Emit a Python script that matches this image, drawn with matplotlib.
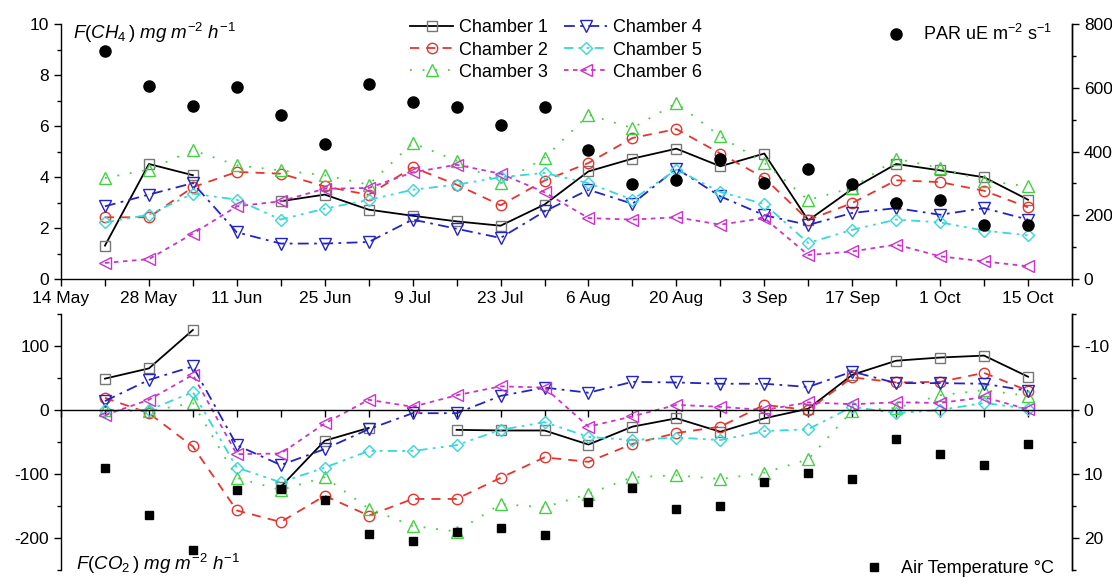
import matplotlib
matplotlib.use("Agg")
import matplotlib.dates as mdates
import matplotlib.pyplot as plt
import numpy as np
import pandas as pd
from matplotlib.ticker import MultipleLocator

nan = np.nan

# weekly sampling dates
sample_dates = pd.to_datetime([
    "2013-05-21", "2013-05-28", "2013-06-04", "2013-06-11", "2013-06-18",
    "2013-06-25", "2013-07-02", "2013-07-09", "2013-07-16", "2013-07-23",
    "2013-07-30", "2013-08-06", "2013-08-13", "2013-08-20", "2013-08-27",
    "2013-09-03", "2013-09-10", "2013-09-17", "2013-09-24", "2013-10-01",
    "2013-10-08", "2013-10-15",
])

chamber_names = ["Chamber 1", "Chamber 2", "Chamber 3",
                 "Chamber 4", "Chamber 5", "Chamber 6"]

# CH4 flux, mg m-2 h-1
ch4_c1 = [1.31, 4.51, 4.07, nan, 3.05, 3.31, 2.72, 2.48, 2.26, 2.09, 2.92,
          4.22, 4.72, 5.11, 4.42, 4.92, 2.30, 3.53, 4.51, 4.26, 3.99, 3.11]
ch4_c2 = [2.42, 2.42, 3.60, 4.20, 4.13, 3.63, 3.30, 4.38, 3.70, 2.89, 3.86,
          4.55, 5.53, 5.88, 4.92, 3.96, 2.31, 2.98, 3.87, 3.80, 3.46, 2.81]
ch4_c3 = [3.96, 4.29, 5.05, 4.46, 4.26, 4.07, 3.70, 5.33, 4.64, 3.76, 4.75,
          6.44, 5.92, 6.90, 5.59, 4.55, 3.10, 3.57, 4.72, 4.35, 3.86, 3.63]
ch4_c4 = [2.85, 3.31, 3.76, 1.83, 1.39, 1.39, 1.45, 2.33, 1.97, 1.61, 2.65,
          3.50, 2.95, 4.33, 3.24, 2.50, 2.12, 2.59, 2.78, 2.52, 2.78, 2.33]
ch4_c5 = [2.22, 2.52, 3.35, 3.11, 2.33, 2.76, 3.10, 3.50, 3.70, 3.99, 4.16,
          3.76, 3.11, 4.29, 3.41, 2.94, 1.41, 1.93, 2.33, 2.22, 1.90, 1.71]
ch4_c6 = [0.63, 0.78, 1.78, 2.85, 3.05, 3.54, 3.57, 4.18, 4.48, 4.13, 3.40,
          2.39, 2.33, 2.42, 2.13, 2.39, 0.94, 1.08, 1.35, 0.89, 0.69, 0.50]

# PAR, uE m-2 s-1
par = [714, 607, 542, 602, 516, 424, 612, 554, 540, 482, 539,
       404, 298, 312, 377, 301, 346, 298, 238, 249, 168, 170]

# CO2 flux, mg m-2 h-1
co2_c1 = [49, 65, 125, nan, -120, -48, -28, nan, -31, -32, -32,
          -54, -26, -13, -34, -13, 2, 55, 77, 82, 85, 52]
co2_c2 = [19, -5, -57, -157, -175, -134, -165, -139, -139, -106, -74,
          -81, -53, -36, -26, 8, 0, 51, 43, 44, 58, 30]
co2_c3 = [0, -2, 11, -106, -125, -105, -154, -181, -190, -147, -152,
          -131, -105, -102, -108, -98, -77, -1, 3, 23, 31, 22]
co2_c4 = [14, 47, 68, -55, -86, -61, -30, -5, -5, 22, 35,
          27, 44, 43, 41, 41, 36, 60, 42, 42, 41, 30]
co2_c5 = [0, 0, 28, -90, -113, -90, -64, -64, -55, -31, -19,
          -42, -47, -43, -47, -33, -30, 5, -5, 0, 11, 2]
co2_c6 = [-8, 16, 55, -69, -68, -21, 16, 5, 23, 37, 35,
          -26, -10, 8, 5, 0, 12, 9, 12, 11, 20, 1]

# air temperature, degC
air_temp = [9.0, 16.4, 21.9, 12.5, 12.3, 14.1, 19.4, 20.4, 19.1, 18.5, 19.6,
            14.4, 12.2, 15.4, 15.0, 11.2, 9.9, 10.8, 4.6, 6.9, 8.6, 5.3]

ch4_series = [ch4_c1, ch4_c2, ch4_c3, ch4_c4, ch4_c5, ch4_c6]
co2_series = [co2_c1, co2_c2, co2_c3, co2_c4, co2_c5, co2_c6]

styles = [
    dict(color="black", ls="-", marker="s", mec="#777777", ms=6.5),
    dict(color="#e8342c", ls=(0, (5, 4)), marker="o", mec="#e8342c", ms=7.5),
    dict(color="#44d044", ls=(0, (1, 6)), marker="^", mec="#44d044", ms=9),
    dict(color="#2424c4", ls=(0, (6, 3, 1.5, 3)), marker="v", mec="#2424c4", ms=9),
    dict(color="#36d8d8", ls=(0, (5, 3, 1.5, 3, 1.5, 3)), marker="D", mec="#36d8d8", ms=6.5),
    dict(color="#cc33cc", ls=(0, (2.5, 2.5)), marker="<", mec="#cc33cc", ms=9),
]

plt.rcParams.update({
    "font.family": "Liberation Sans",
    "font.size": 12.5,
    "axes.unicode_minus": False,
    "axes.linewidth": 1.0,
    "mathtext.fontset": "custom",
    "mathtext.rm": "Liberation Sans",
    "mathtext.it": "Liberation Sans:italic",
    "mathtext.bf": "Liberation Sans:bold",
})

W, H = 1112, 578
fig = plt.figure(figsize=(W / 100, H / 100), dpi=100)
ax1 = fig.add_axes([61 / W, 1 - 279 / H, 1011 / W, 255 / H])
ax2 = fig.add_axes([61 / W, 1 - 570 / H, 1011 / W, 256 / H])
ax1r = ax1.twinx()
ax2r = ax2.twinx()

x_start, x_end = pd.Timestamp("2013-05-14"), pd.Timestamp("2013-10-22")
major_days = pd.date_range(x_start, "2013-10-15", freq="14D")
minor_days = pd.date_range(x_start, x_end, freq="7D")

chamber_handles = []
for name, ys, st in zip(chamber_names, ch4_series, styles):
    ln, = ax1.plot(sample_dates, ys, color=st["color"], ls=st["ls"], lw=1.3,
                   marker=st["marker"], ms=st["ms"], mfc="none",
                   mec=st["mec"], mew=1.0, label=name)
    chamber_handles.append(ln)

for ys, st in zip(co2_series, styles):
    ax2.plot(sample_dates, ys, color=st["color"], ls=st["ls"], lw=1.3,
             marker=st["marker"], ms=st["ms"], mfc="none",
             mec=st["mec"], mew=1.0)

par_h, = ax1r.plot(sample_dates, par, ls="none", marker="o", ms=8,
                   color="black", label=r"PAR uE m$^{-2}$ s$^{-1}$")
temp_h, = ax2r.plot(sample_dates, air_temp, ls="none", marker="s", ms=6,
                    color="black", label="Air Temperature °C")

for ax in (ax1, ax2, ax1r, ax2r):
    ax.set_xlim(x_start, x_end)
    ax.set_xticks(major_days)
    ax.set_xticks(minor_days, minor=True)
    ax.xaxis.set_major_formatter(mdates.DateFormatter("%-d %b"))
    ax.spines["top"].set_visible(False)
    ax.tick_params(which="both", direction="out", labelsize=12.5)
    ax.tick_params(which="major", length=5, width=1.0)
    ax.tick_params(which="minor", length=3, width=1.0)
    ax.tick_params(axis="x", which="both", length=5, width=1.0)

# top panel: CH4 flux (left) and PAR (right)
ax1.set_ylim(0, 10)
ax1.yaxis.set_major_locator(MultipleLocator(2))
ax1.yaxis.set_minor_locator(MultipleLocator(1))
ax1r.set_ylim(0, 800)
ax1r.yaxis.set_major_locator(MultipleLocator(200))
ax1r.yaxis.set_minor_locator(MultipleLocator(100))
ax1r.spines["left"].set_visible(False)
ax1r.spines["bottom"].set_visible(False)
ax1r.tick_params(axis="x", which="both", bottom=False, labelbottom=False)
ax1.text(0.012, 0.965, r"$F(CH_4\,)\ mg\ m^{-2}\ h^{-1}$", transform=ax1.transAxes,
         fontsize=13.5, va="center", ha="left")

# bottom panel: CO2 flux (left) and air temperature (right, reversed)
ax2.set_ylim(-250, 150)
ax2.yaxis.set_major_locator(MultipleLocator(100))
ax2.yaxis.set_minor_locator(MultipleLocator(50))
ax2.spines["bottom"].set_position(("data", 0))
ax2.tick_params(axis="x", which="both", labelbottom=False)
ax2r.set_ylim(25, -15)
ax2r.yaxis.set_major_locator(MultipleLocator(10))
ax2r.yaxis.set_minor_locator(MultipleLocator(5))
ax2r.spines["left"].set_visible(False)
ax2r.spines["bottom"].set_visible(False)
ax2r.tick_params(axis="x", which="both", bottom=False, labelbottom=False)
ax2.text(0.015, 0.0, r"$F(CO_2\,)\ mg\ m^{-2}\ h^{-1}$", transform=ax2.transAxes,
         fontsize=13.5, va="baseline", ha="left")

fig.legend(handles=chamber_handles, loc="upper left", ncol=2,
           bbox_to_anchor=(410 / W, 1 - 19.5 / H), frameon=False, fontsize=13,
           borderpad=0, borderaxespad=0, handlelength=2.4, handletextpad=0.3,
           columnspacing=0.9, labelspacing=0.28)
fig.legend(handles=[par_h], loc="upper right", bbox_to_anchor=(1052 / W, 1 - 24 / H),
           frameon=False, fontsize=13, borderpad=0, borderaxespad=0,
           handlelength=1.4, handletextpad=0.8, numpoints=1)
fig.legend(handles=[temp_h], loc="lower right", bbox_to_anchor=(1054 / W, 1 / H),
           frameon=False, fontsize=13, borderpad=0, borderaxespad=0,
           handlelength=1.4, handletextpad=0.8, numpoints=1)

fig.savefig("out.png", dpi=100)
